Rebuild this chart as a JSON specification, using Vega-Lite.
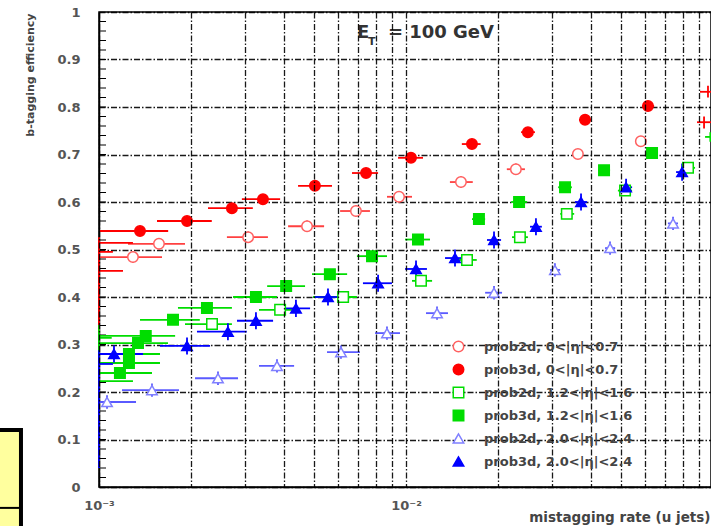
{
"$schema":"https://vega.github.io/schema/vega-lite/v6.json",
"width":612,"height":475,
"autosize":{"type":"none"},
"padding":{"left":99,"top":12,"right":0,"bottom":39},
"background":"white",
"config":{
 "view":{"stroke":"black","strokeWidth":1.5}
},
"datasets":{
 "pts":[
  {"s":"prob3d, 0<|η|<0.7","m":true,"x":0.00136,"y":0.539,"xl":0.001007,"xh":0.00168,"yl":0.531,"yh":0.547},
  {"s":"prob3d, 0<|η|<0.7","m":true,"x":0.001935,"y":0.560,"xl":0.001545,"xh":0.00233,"yl":0.552,"yh":0.568},
  {"s":"prob3d, 0<|η|<0.7","m":true,"x":0.00271,"y":0.587,"xl":0.002265,"xh":0.00317,"yl":0.579,"yh":0.595},
  {"s":"prob3d, 0<|η|<0.7","m":true,"x":0.00342,"y":0.606,"xl":0.00292,"xh":0.00389,"yl":0.598,"yh":0.614},
  {"s":"prob3d, 0<|η|<0.7","m":true,"x":0.00505,"y":0.634,"xl":0.00445,"xh":0.00574,"yl":0.626,"yh":0.642},
  {"s":"prob3d, 0<|η|<0.7","m":true,"x":0.00741,"y":0.661,"xl":0.00667,"xh":0.00811,"yl":0.653,"yh":0.669},
  {"s":"prob3d, 0<|η|<0.7","m":true,"x":0.01038,"y":0.693,"xl":0.00942,"xh":0.01136,"yl":0.685,"yh":0.701},
  {"s":"prob3d, 0<|η|<0.7","m":true,"x":0.0164,"y":0.722,"xl":0.0152,"xh":0.0175,"yl":0.714,"yh":0.730},
  {"s":"prob3d, 0<|η|<0.7","m":true,"x":0.02495,"y":0.747,"xl":0.0237,"xh":0.0263,"yl":0.739,"yh":0.755},
  {"s":"prob3d, 0<|η|<0.7","m":true,"x":0.0383,"y":0.773,"xl":0.0366,"xh":0.0400,"yl":0.765,"yh":0.781},
  {"s":"prob3d, 0<|η|<0.7","m":true,"x":0.0614,"y":0.802,"xl":0.0587,"xh":0.0643,"yl":0.794,"yh":0.810},
  {"s":"prob2d, 0<|η|<0.7","m":true,"x":0.00129,"y":0.484,"xl":0.001007,"xh":0.001604,"yl":0.472,"yh":0.496},
  {"s":"prob2d, 0<|η|<0.7","m":true,"x":0.001568,"y":0.512,"xl":0.001243,"xh":0.001906,"yl":0.500,"yh":0.524},
  {"s":"prob2d, 0<|η|<0.7","m":true,"x":0.00306,"y":0.526,"xl":0.00261,"xh":0.00355,"yl":0.514,"yh":0.538},
  {"s":"prob2d, 0<|η|<0.7","m":true,"x":0.00476,"y":0.549,"xl":0.00413,"xh":0.00541,"yl":0.537,"yh":0.561},
  {"s":"prob2d, 0<|η|<0.7","m":true,"x":0.00687,"y":0.581,"xl":0.0061,"xh":0.00763,"yl":0.569,"yh":0.593},
  {"s":"prob2d, 0<|η|<0.7","m":true,"x":0.00949,"y":0.611,"xl":0.00867,"xh":0.01046,"yl":0.599,"yh":0.623},
  {"s":"prob2d, 0<|η|<0.7","m":true,"x":0.0151,"y":0.642,"xl":0.0139,"xh":0.0165,"yl":0.630,"yh":0.654},
  {"s":"prob2d, 0<|η|<0.7","m":true,"x":0.0228,"y":0.669,"xl":0.0213,"xh":0.0244,"yl":0.657,"yh":0.681},
  {"s":"prob2d, 0<|η|<0.7","m":true,"x":0.0363,"y":0.701,"xl":0.0350,"xh":0.0377,"yl":0.692,"yh":0.710},
  {"s":"prob2d, 0<|η|<0.7","m":true,"x":0.0582,"y":0.728,"xl":0.0561,"xh":0.0605,"yl":0.719,"yh":0.737},
  {"s":"prob3d, 1.2<|η|<1.6","m":true,"x":0.00117,"y":0.240,"xl":0.001007,"xh":0.001488,"yl":0.232,"yh":0.248},
  {"s":"prob3d, 1.2<|η|<1.6","m":true,"x":0.001252,"y":0.261,"xl":0.001007,"xh":0.00158,"yl":0.253,"yh":0.269},
  {"s":"prob3d, 1.2<|η|<1.6","m":true,"x":0.001252,"y":0.280,"xl":0.001007,"xh":0.00158,"yl":0.272,"yh":0.288},
  {"s":"prob3d, 1.2<|η|<1.6","m":true,"x":0.00134,"y":0.303,"xl":0.001007,"xh":0.001678,"yl":0.295,"yh":0.311},
  {"s":"prob3d, 1.2<|η|<1.6","m":true,"x":0.00142,"y":0.318,"xl":0.001007,"xh":0.00177,"yl":0.310,"yh":0.326},
  {"s":"prob3d, 1.2<|η|<1.6","m":true,"x":0.001742,"y":0.352,"xl":0.00136,"xh":0.00213,"yl":0.344,"yh":0.360},
  {"s":"prob3d, 1.2<|η|<1.6","m":true,"x":0.002247,"y":0.377,"xl":0.001808,"xh":0.00271,"yl":0.369,"yh":0.385},
  {"s":"prob3d, 1.2<|η|<1.6","m":true,"x":0.003245,"y":0.400,"xl":0.002733,"xh":0.0038,"yl":0.392,"yh":0.408},
  {"s":"prob3d, 1.2<|η|<1.6","m":true,"x":0.00407,"y":0.423,"xl":0.00353,"xh":0.00469,"yl":0.415,"yh":0.431},
  {"s":"prob3d, 1.2<|η|<1.6","m":true,"x":0.00565,"y":0.448,"xl":0.00494,"xh":0.00643,"yl":0.440,"yh":0.456},
  {"s":"prob3d, 1.2<|η|<1.6","m":true,"x":0.00775,"y":0.486,"xl":0.00692,"xh":0.00867,"yl":0.478,"yh":0.494},
  {"s":"prob3d, 1.2<|η|<1.6","m":true,"x":0.01094,"y":0.521,"xl":0.00993,"xh":0.01197,"yl":0.513,"yh":0.529},
  {"s":"prob3d, 1.2<|η|<1.6","m":true,"x":0.01728,"y":0.564,"xl":0.0164,"xh":0.0181,"yl":0.556,"yh":0.572},
  {"s":"prob3d, 1.2<|η|<1.6","m":true,"x":0.02335,"y":0.600,"xl":0.0220,"xh":0.0248,"yl":0.592,"yh":0.608},
  {"s":"prob3d, 1.2<|η|<1.6","m":true,"x":0.03296,"y":0.631,"xl":0.0313,"xh":0.0347,"yl":0.623,"yh":0.639},
  {"s":"prob3d, 1.2<|η|<1.6","m":true,"x":0.04416,"y":0.667,"xl":0.0422,"xh":0.0462,"yl":0.659,"yh":0.675},
  {"s":"prob3d, 1.2<|η|<1.6","m":true,"x":0.0633,"y":0.703,"xl":0.0605,"xh":0.0662,"yl":0.695,"yh":0.711},
  {"s":"prob2d, 1.2<|η|<1.6","m":true,"x":0.002334,"y":0.343,"xl":0.001906,"xh":0.00271,"yl":0.335,"yh":0.351},
  {"s":"prob2d, 1.2<|η|<1.6","m":true,"x":0.00389,"y":0.373,"xl":0.00332,"xh":0.00435,"yl":0.365,"yh":0.381},
  {"s":"prob2d, 1.2<|η|<1.6","m":true,"x":0.00624,"y":0.400,"xl":0.00498,"xh":0.00692,"yl":0.392,"yh":0.408},
  {"s":"prob2d, 1.2<|η|<1.6","m":true,"x":0.01119,"y":0.434,"xl":0.01046,"xh":0.01216,"yl":0.426,"yh":0.442},
  {"s":"prob2d, 1.2<|η|<1.6","m":true,"x":0.0158,"y":0.478,"xl":0.01466,"xh":0.0170,"yl":0.470,"yh":0.486},
  {"s":"prob2d, 1.2<|η|<1.6","m":true,"x":0.0235,"y":0.526,"xl":0.02215,"xh":0.02495,"yl":0.518,"yh":0.534},
  {"s":"prob2d, 1.2<|η|<1.6","m":true,"x":0.0334,"y":0.575,"xl":0.0318,"xh":0.0353,"yl":0.567,"yh":0.583},
  {"s":"prob2d, 1.2<|η|<1.6","m":true,"x":0.0517,"y":0.624,"xl":0.0490,"xh":0.0545,"yl":0.616,"yh":0.632},
  {"s":"prob2d, 1.2<|η|<1.6","m":true,"x":0.0829,"y":0.672,"xl":0.0787,"xh":0.0874,"yl":0.664,"yh":0.680},
  {"s":"prob3d, 2.0<|η|<2.4","m":true,"x":0.001119,"y":0.280,"xl":0.001007,"xh":0.001391,"yl":0.262,"yh":0.298},
  {"s":"prob3d, 2.0<|η|<2.4","m":true,"x":0.001935,"y":0.297,"xl":0.00158,"xh":0.0023,"yl":0.279,"yh":0.315},
  {"s":"prob3d, 2.0<|η|<2.4","m":true,"x":0.00263,"y":0.327,"xl":0.002085,"xh":0.00303,"yl":0.309,"yh":0.345},
  {"s":"prob3d, 2.0<|η|<2.4","m":true,"x":0.003245,"y":0.350,"xl":0.002815,"xh":0.00369,"yl":0.332,"yh":0.368},
  {"s":"prob3d, 2.0<|η|<2.4","m":true,"x":0.00438,"y":0.376,"xl":0.00383,"xh":0.00487,"yl":0.358,"yh":0.394},
  {"s":"prob3d, 2.0<|η|<2.4","m":true,"x":0.00557,"y":0.400,"xl":0.00505,"xh":0.00633,"yl":0.382,"yh":0.418},
  {"s":"prob3d, 2.0<|η|<2.4","m":true,"x":0.00811,"y":0.429,"xl":0.00724,"xh":0.0090,"yl":0.411,"yh":0.447},
  {"s":"prob3d, 2.0<|η|<2.4","m":true,"x":0.01078,"y":0.459,"xl":0.00993,"xh":0.0117,"yl":0.441,"yh":0.477},
  {"s":"prob3d, 2.0<|η|<2.4","m":true,"x":0.01444,"y":0.482,"xl":0.0134,"xh":0.01556,"yl":0.464,"yh":0.500},
  {"s":"prob3d, 2.0<|η|<2.4","m":true,"x":0.01935,"y":0.520,"xl":0.01836,"xh":0.0204,"yl":0.502,"yh":0.538},
  {"s":"prob3d, 2.0<|η|<2.4","m":true,"x":0.0265,"y":0.548,"xl":0.02535,"xh":0.0277,"yl":0.530,"yh":0.566},
  {"s":"prob3d, 2.0<|η|<2.4","m":true,"x":0.03716,"y":0.600,"xl":0.0355,"xh":0.0389,"yl":0.582,"yh":0.618},
  {"s":"prob3d, 2.0<|η|<2.4","m":true,"x":0.0521,"y":0.631,"xl":0.0498,"xh":0.0545,"yl":0.613,"yh":0.649},
  {"s":"prob3d, 2.0<|η|<2.4","m":true,"x":0.0793,"y":0.663,"xl":0.0758,"xh":0.0829,"yl":0.645,"yh":0.681},
  {"s":"prob2d, 2.0<|η|<2.4","m":true,"x":0.001062,"y":0.179,"xl":0.001007,"xh":0.00132,"yl":0.165,"yh":0.193},
  {"s":"prob2d, 2.0<|η|<2.4","m":true,"x":0.001488,"y":0.204,"xl":0.001188,"xh":0.001822,"yl":0.190,"yh":0.218},
  {"s":"prob2d, 2.0<|η|<2.4","m":true,"x":0.002441,"y":0.229,"xl":0.002055,"xh":0.002837,"yl":0.215,"yh":0.243},
  {"s":"prob2d, 2.0<|η|<2.4","m":true,"x":0.0038,"y":0.255,"xl":0.00332,"xh":0.00432,"yl":0.241,"yh":0.269},
  {"s":"prob2d, 2.0<|η|<2.4","m":true,"x":0.00614,"y":0.284,"xl":0.00553,"xh":0.00708,"yl":0.270,"yh":0.298},
  {"s":"prob2d, 2.0<|η|<2.4","m":true,"x":0.00867,"y":0.324,"xl":0.00793,"xh":0.00956,"yl":0.310,"yh":0.338},
  {"s":"prob2d, 2.0<|η|<2.4","m":true,"x":0.01262,"y":0.366,"xl":0.01162,"xh":0.0137,"yl":0.352,"yh":0.380},
  {"s":"prob2d, 2.0<|η|<2.4","m":true,"x":0.01935,"y":0.409,"xl":0.0181,"xh":0.02055,"yl":0.395,"yh":0.423},
  {"s":"prob2d, 2.0<|η|<2.4","m":true,"x":0.03055,"y":0.457,"xl":0.02944,"xh":0.03175,"yl":0.443,"yh":0.471},
  {"s":"prob2d, 2.0<|η|<2.4","m":true,"x":0.0462,"y":0.503,"xl":0.0445,"xh":0.0480,"yl":0.489,"yh":0.517},
  {"s":"prob2d, 2.0<|η|<2.4","m":true,"x":0.0741,"y":0.555,"xl":0.0713,"xh":0.0769,"yl":0.541,"yh":0.569},
  {"s":"prob3d, 0<|η|<0.7","m":false,"xl":0.001,"xh":0.00129,"y":0.514},
  {"s":"prob3d, 0<|η|<0.7","m":false,"xl":0.001,"xh":0.00111,"y":0.495},
  {"s":"prob3d, 0<|η|<0.7","m":false,"xl":0.001,"xh":0.001197,"y":0.455},
  {"s":"prob3d, 0<|η|<0.7","m":false,"x":0.001,"yl":0.324,"yh":0.526},
  {"s":"prob3d, 1.2<|η|<1.6","m":false,"xl":0.001,"xh":0.0011,"y":0.314},
  {"s":"prob3d, 1.2<|η|<1.6","m":false,"xl":0.001,"xh":0.00129,"y":0.223},
  {"s":"prob3d, 1.2<|η|<1.6","m":false,"x":0.001,"yl":0.282,"yh":0.341},
  {"s":"prob3d, 2.0<|η|<2.4","m":false,"xl":0.001,"xh":0.00111,"y":0.259},
  {"s":"prob3d, 2.0<|η|<2.4","m":false,"x":0.001,"yl":0.04,"yh":0.288},
  {"s":"prob3d, 0<|η|<0.7","m":false,"x":0.0963,"y":0.832,"xl":0.0907,"xh":0.1,"yl":0.82,"yh":0.845},
  {"s":"prob3d, 0<|η|<0.7","m":false,"x":0.0935,"y":0.768,"xl":0.0887,"xh":0.1,"yl":0.755,"yh":0.78},
  {"s":"prob3d, 1.2<|η|<1.6","m":false,"x":0.098,"y":0.737,"xl":0.0942,"xh":0.1,"yl":0.727,"yh":0.747}
 ],
 "minor":[
  {"y":0.02},{"y":0.04},{"y":0.06},{"y":0.08},{"y":0.1},{"y":0.12},{"y":0.14},{"y":0.16},{"y":0.18},{"y":0.2},
  {"y":0.22},{"y":0.24},{"y":0.26},{"y":0.28},{"y":0.3},{"y":0.32},{"y":0.34},{"y":0.36},{"y":0.38},{"y":0.4},
  {"y":0.42},{"y":0.44},{"y":0.46},{"y":0.48},{"y":0.5},{"y":0.52},{"y":0.54},{"y":0.56},{"y":0.58},{"y":0.6},
  {"y":0.62},{"y":0.64},{"y":0.66},{"y":0.68},{"y":0.7},{"y":0.72},{"y":0.74},{"y":0.76},{"y":0.78},{"y":0.8},
  {"y":0.82},{"y":0.84},{"y":0.86},{"y":0.88},{"y":0.9},{"y":0.92},{"y":0.94},{"y":0.96},{"y":0.98}
 ]
},
"layer":[
 {"data":{"values":[{"x1":0.00044,"x2":0.000557,"y1":-0.095,"y2":0.12,"yr":-0.044}]},
  "layer":[
   {"mark":{"type":"rect","fill":"#ffff9e","stroke":"black","strokeWidth":4},
    "encoding":{
     "x":{"field":"x1","type":"quantitative","title":"mistagging rate (u jets)",
      "scale":{"type":"log","domain":[0.001,0.0985],"nice":false},
      "axis":{"values":[0.001,0.002,0.003,0.004,0.005,0.006,0.007,0.008,0.009,0.01,0.02,0.03,0.04,0.05,0.06,0.07,0.08,0.09],
       "labelExpr":"datum.value < 0.0015 ? '10⁻³' : (abs(datum.value - 0.01) < 0.0001 ? '10⁻²' : '')",
       "labelOverlap":false,"labelFlush":false,"labelBound":false,
       "labelFont":"DejaVu Sans","labelFontWeight":"bold","labelFontSize":13,"labelColor":"#555","labelPadding":12,
       "ticks":false,"domainColor":"black","domainWidth":1.5,
       "grid":true,"gridColor":"black","gridDash":[6,2,1.5,2],"gridWidth":1.3,"gridOpacity":0.9,
       "titleFont":"DejaVu Sans","titleFontWeight":"bold","titleFontSize":13.5,"titleColor":"#444",
       "titleAnchor":"end","titleAlign":"right","titleBaseline":"middle","titleX":611,"titleY":30,
       "zindex":1}},
     "x2":{"field":"x2"},
     "y":{"field":"y1","type":"quantitative","title":"b-tagging efficiency",
      "scale":{"domain":[0,1],"nice":false,"zero":false},
      "axis":{"values":[0,0.1,0.2,0.3,0.4,0.5,0.6,0.7,0.8,0.9,1],
       "labelExpr":"format(datum.value, '.1~f')",
       "labelOverlap":false,"labelFont":"DejaVu Sans","labelFontWeight":"bold","labelFontSize":13,"labelColor":"#555","labelPadding":19,
       "ticks":false,
       "domainColor":"black","domainWidth":1.5,
       "grid":true,"gridColor":"black","gridDash":[6,2,1.5,2],"gridWidth":1.3,"gridOpacity":0.9,
       "titleFont":"DejaVu Sans","titleFontWeight":"bold","titleFontSize":11,"titleColor":"#444",
       "titleAngle":-90,"titleAlign":"right","titleBaseline":"middle","titleX":-69,"titleY":1,
       "zindex":0}},
     "y2":{"field":"y2"}}},
   {"mark":{"type":"rule","stroke":"black","strokeWidth":2},
    "encoding":{"x":{"field":"x1","type":"quantitative","title":"mistagging rate (u jets)"},"x2":{"field":"x2"},
     "y":{"field":"yr","type":"quantitative","title":"b-tagging efficiency"}}}
  ]},
 {"data":{"name":"minor"},
  "mark":{"type":"rule","stroke":"black","strokeWidth":1},
  "encoding":{"x":{"datum":0.001,"type":"quantitative"},"x2":{"datum":0.001054},
   "y":{"field":"y","type":"quantitative","title":"b-tagging efficiency"}}},
 {"data":{"name":"pts"},
  "transform":[{"filter":"isValid(datum.xl)"}],
  "mark":{"type":"rule","strokeWidth":1.8},
  "encoding":{
   "x":{"field":"xl","type":"quantitative","title":"mistagging rate (u jets)"},"x2":{"field":"xh"},
   "y":{"field":"y","type":"quantitative","title":"b-tagging efficiency"},
   "color":{"field":"s","type":"nominal","legend":null,
    "scale":{"range":["#ff4040","#00dd00","#5a5aff","#ff0000","#00dd00","#0000ff"]}}}},
 {"data":{"name":"pts"},
  "transform":[{"filter":"isValid(datum.yl)"}],
  "mark":{"type":"rule","strokeWidth":1.8},
  "encoding":{
   "x":{"field":"x","type":"quantitative","title":"mistagging rate (u jets)"},
   "y":{"field":"yl","type":"quantitative","title":"b-tagging efficiency"},"y2":{"field":"yh"},
   "color":{"field":"s","type":"nominal","legend":null}}},
 {"data":{"name":"pts"},
  "transform":[{"filter":"datum.m"}],
  "mark":{"type":"point","filled":true,"size":110,"strokeWidth":1.5,"opacity":1},
  "encoding":{
   "x":{"field":"x","type":"quantitative","title":"mistagging rate (u jets)"},
   "y":{"field":"y","type":"quantitative","title":"b-tagging efficiency"},
   "shape":{"field":"s","type":"nominal","title":"series",
    "scale":{"domain":["prob2d, 0<|η|<0.7","prob3d, 0<|η|<0.7","prob2d, 1.2<|η|<1.6","prob3d, 1.2<|η|<1.6","prob2d, 2.0<|η|<2.4","prob3d, 2.0<|η|<2.4"],
     "range":["circle","circle","square","square","triangle-up","triangle-up"]},
    "legend":{"title":null,"orient":"none","legendX":353,"legendY":328,"labelFont":"DejaVu Sans","labelFontWeight":"bold","labelFontSize":13,"labelColor":"#444","symbolSize":110,"symbolStrokeWidth":1.5,"rowPadding":6,"labelOffset":19,"padding":0,"labelLimit":300,"zindex":2}},
   "fill":{"field":"s","type":"nominal","title":"series",
    "scale":{"domain":["prob2d, 0<|η|<0.7","prob3d, 0<|η|<0.7","prob2d, 1.2<|η|<1.6","prob3d, 1.2<|η|<1.6","prob2d, 2.0<|η|<2.4","prob3d, 2.0<|η|<2.4"],
     "range":["white","#ff0000","white","#00dd00","white","#0000ff"]},
    "legend":{"title":null,"orient":"none","legendX":353,"legendY":328,"labelFont":"DejaVu Sans","labelFontWeight":"bold","labelFontSize":13,"labelColor":"#444","symbolSize":110,"symbolStrokeWidth":1.5,"rowPadding":6,"labelOffset":19,"padding":0,"labelLimit":300,"zindex":2}},
   "stroke":{"field":"s","type":"nominal","title":"series",
    "scale":{"domain":["prob2d, 0<|η|<0.7","prob3d, 0<|η|<0.7","prob2d, 1.2<|η|<1.6","prob3d, 1.2<|η|<1.6","prob2d, 2.0<|η|<2.4","prob3d, 2.0<|η|<2.4"],
     "range":["#ff6060","#ff0000","#00dd00","#00dd00","#8080ff","#0000ff"]},
    "legend":{"title":null,"orient":"none","legendX":353,"legendY":328,"labelFont":"DejaVu Sans","labelFontWeight":"bold","labelFontSize":13,"labelColor":"#444","symbolSize":110,"symbolStrokeWidth":1.5,"rowPadding":6,"labelOffset":19,"padding":0,"labelLimit":300,"zindex":2}}}},
 {"data":{"values":[{"t":"E","x":0.00692,"y":0.956},{"t":"= 100 GeV","x":0.00873,"y":0.956}]},
  "mark":{"type":"text","align":"left","baseline":"middle","font":"DejaVu Sans","fontWeight":"bold","fontSize":18,"color":"#333"},
  "encoding":{"x":{"field":"x","type":"quantitative","title":"mistagging rate (u jets)"},"y":{"field":"y","type":"quantitative","title":"b-tagging efficiency"},"text":{"field":"t"}}},
 {"data":{"values":[{"t":"T","x":0.00752,"y":0.937}]},
  "mark":{"type":"text","align":"left","baseline":"middle","font":"DejaVu Sans","fontWeight":"bold","fontSize":11,"color":"#333"},
  "encoding":{"x":{"field":"x","type":"quantitative","title":"mistagging rate (u jets)"},"y":{"field":"y","type":"quantitative","title":"b-tagging efficiency"},"text":{"field":"t"}}}
]
}
